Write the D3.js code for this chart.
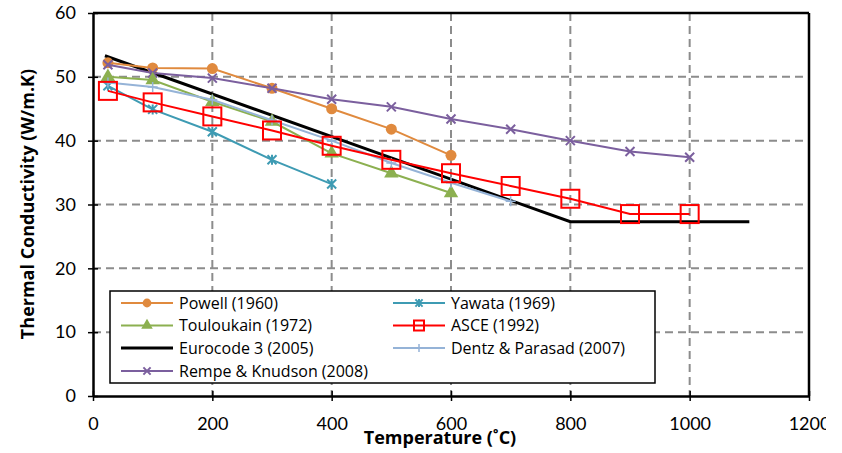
<!DOCTYPE html>
<html><head><meta charset="utf-8">
<script src="https://cdn.jsdelivr.net/npm/d3@7"></script>
<style>body{margin:0;background:#fff}svg{display:block}</style>
</head><body><svg id="c" width="842" height="453"></svg>
<script>
const xTicks=[0,200,400,600,800,1000,1200];
const yTicks=[0,10,20,30,40,50,60];
const powellT=[25,100,200,300,400,500,600];
const powellK=[52.2,51.4,51.3,48.2,45.0,41.8,37.7];
const yawataT=[25,100,200,300,400];
const yawataK=[48.6,44.9,41.4,37.0,33.2];
const toulT=[25,100,200,300,400,500,600];
const toulK=[50.0,49.5,46.1,43.0,38.0,34.9,31.8];
const asceT=[25,100,200,300,400,500,600,700,800,900,1000];
const asceK=[47.8,46.0,43.8,41.6,39.2,37.0,34.9,32.9,30.9,28.5,28.5];
const euroT=[20,800,1100];
const euroK=[53.3,27.3,27.3];
const dentzT=[25,100,200,300,400,500,600,700];
const dentzK=[49.1,48.4,46.4,43.2,40.0,36.5,33.4,30.5];
const rempeT=[25,100,200,300,400,500,600,700,800,900,1000];
const rempeK=[51.9,50.6,49.8,48.2,46.5,45.3,43.4,41.8,40.0,38.3,37.4];

const series=[
 {name:"Powell (1960)",t:powellT,k:powellK,color:"#E08A3E",marker:"circle",w:2},
 {name:"Yawata (1969)",t:yawataT,k:yawataK,color:"#3E9BB3",marker:"star",w:2},
 {name:"Touloukain (1972)",t:toulT,k:toulK,color:"#8CB050",marker:"triangle",w:2},
 {name:"ASCE (1992)",t:asceT,k:asceK,color:"#FF0000",marker:"square",w:2},
 {name:"Eurocode 3 (2005)",t:euroT,k:euroK,color:"#000000",marker:null,w:3},
 {name:"Dentz & Parasad (2007)",t:dentzT,k:dentzK,color:"#95B3D7",marker:"plus",w:2},
 {name:"Rempe & Knudson (2008)",t:rempeT,k:rempeK,color:"#7B5F9E",marker:"cross",w:2}
];
const drawOrder=[4,0,6,2,1,5,3];
const OS="'Open Sans',sans-serif", LA="Lato,sans-serif";

const svg=d3.select("#c");
const L=93,R=809,T=13,B=396;
const x=d3.scaleLinear().domain([0,1200]).range([L,R]);
const y=d3.scaleLinear().domain([0,60]).range([B,T]);

svg.append("defs").append("clipPath").attr("id","clipR").append("rect").attr("x",-100).attr("y",-500).attr("width",926).attr("height",1000);

// grid
const g=svg.append("g");
g.selectAll(".vg").data(xTicks.filter(d=>d>0&&d<1200)).join("line")
 .attr("x1",d=>x(d)).attr("x2",d=>x(d)).attr("y1",T).attr("y2",B)
 .attr("stroke","#8c8c8c").attr("stroke-width",2).attr("stroke-dasharray","8,5");
g.selectAll(".hg").data(yTicks.filter(d=>d>0&&d<60)).join("line")
 .attr("y1",d=>y(d)).attr("y2",d=>y(d)).attr("x1",L).attr("x2",R)
 .attr("stroke","#8c8c8c").attr("stroke-width",2).attr("stroke-dasharray","8,5");

// frame
svg.append("line").attr("x1",L).attr("x2",R).attr("y1",T).attr("y2",T).attr("stroke","#000").attr("stroke-width",2.5);
svg.append("line").attr("x1",R).attr("x2",R).attr("y1",T).attr("y2",B).attr("stroke","#000").attr("stroke-width",2.5);

// axes
const xa=svg.append("g").attr("transform",`translate(0,${B})`).attr("clip-path","url(#clipR)")
 .call(d3.axisBottom(x).tickValues(xTicks).tickSize(5).tickSizeOuter(0).tickPadding(16).tickFormat(d3.format("d")));
xa.selectAll(".tick line").attr("y1",-5).attr("stroke-width",1.5);
xa.select(".domain").attr("stroke-width",2.5);
xa.selectAll("text").style("font-family",LA).style("font-size","18px").attr("fill","#000");
const ya=svg.append("g").attr("transform",`translate(${L},0)`)
 .call(d3.axisLeft(y).tickValues(yTicks).tickSize(5).tickSizeOuter(0).tickPadding(12));
ya.selectAll(".tick line").attr("x1",5).attr("stroke-width",1.5);
ya.select(".domain").attr("stroke-width",2.5);
ya.selectAll("text").style("font-family",LA).style("font-size","18px").attr("fill","#000");

svg.append("text").attr("x",440).attr("y",444).attr("text-anchor","middle")
 .style("font-family",OS).style("font-size","18px").style("font-weight","bold").text("Temperature (˚C)");
svg.append("text").attr("transform",`translate(34,204) rotate(-90)`).attr("text-anchor","middle")
 .style("font-family",OS).style("font-size","18px").style("font-weight","bold").text("Thermal Conductivity (W/m.K)");

function marker(sel,s,size){
 const c=s.color;
 if(s.marker==="circle") sel.append("circle").attr("r",size*0.55).attr("fill",c);
 else if(s.marker==="triangle") sel.append("path").attr("d",d3.symbol(d3.symbolTriangle,size*size*0.9)()).attr("fill",c);
 else if(s.marker==="square") sel.append("rect").attr("x",-size).attr("y",-size).attr("width",2*size).attr("height",2*size).attr("fill","none").attr("stroke",c).attr("stroke-width",2);
 else if(s.marker==="plus") sel.append("path").attr("d",`M${-size*0.5},0H${size*0.5}M0,${-size*0.5}V${size*0.5}`).attr("stroke",c).attr("stroke-width",1.5);
 else if(s.marker==="cross") sel.append("path").attr("d",`M${-size*0.45},${-size*0.45}L${size*0.45},${size*0.45}M${-size*0.45},${size*0.45}L${size*0.45},${-size*0.45}`).attr("stroke",c).attr("stroke-width",2);
 else if(s.marker==="star") sel.append("path").attr("d",`M${-size*0.45},${-size*0.45}L${size*0.45},${size*0.45}M${-size*0.45},${size*0.45}L${size*0.45},${-size*0.45}M0,${-size*0.5}V${size*0.5}`).attr("stroke",c).attr("stroke-width",2);
}
const line=d3.line().x(d=>x(d[0])).y(d=>y(d[1]));
drawOrder.forEach(i=>{
 const s=series[i];
 const pts=s.t.map((t,j)=>[t,s.k[j]]);
 const sg=svg.append("g");
 sg.append("path").attr("d",line(pts)).attr("fill","none").attr("stroke",s.color).attr("stroke-width",s.w);
 if(s.marker){
  pts.forEach(p=>{
   const m=sg.append("g").attr("transform",`translate(${x(p[0])},${y(p[1])})`);
   marker(m,s,s.marker==="square"?9:10);
  });
 }
});

// legend
const lg=svg.append("g");
lg.append("rect").attr("x",110).attr("y",291).attr("width",545).attr("height",92).attr("fill","#fff").attr("stroke","#000").attr("stroke-width",1.5);
const rows=[303,325.5,348,371];
series.forEach((s,i)=>{
 const col=i%2, row=Math.floor(i/2);
 const lx=col===0?121:393, ly=rows[row];
 lg.append("line").attr("x1",lx).attr("x2",lx+52).attr("y1",ly).attr("y2",ly).attr("stroke",s.color).attr("stroke-width",s.w);
 if(s.marker){const m=lg.append("g").attr("transform",`translate(${lx+26},${ly})`);marker(m,s,s.marker==="square"?5:8);}
 lg.append("text").attr("x",lx+58).attr("y",ly+5.5).style("font-family",OS).style("font-size","16px").attr("fill","#000").text(s.name);
});
</script></body></html>
